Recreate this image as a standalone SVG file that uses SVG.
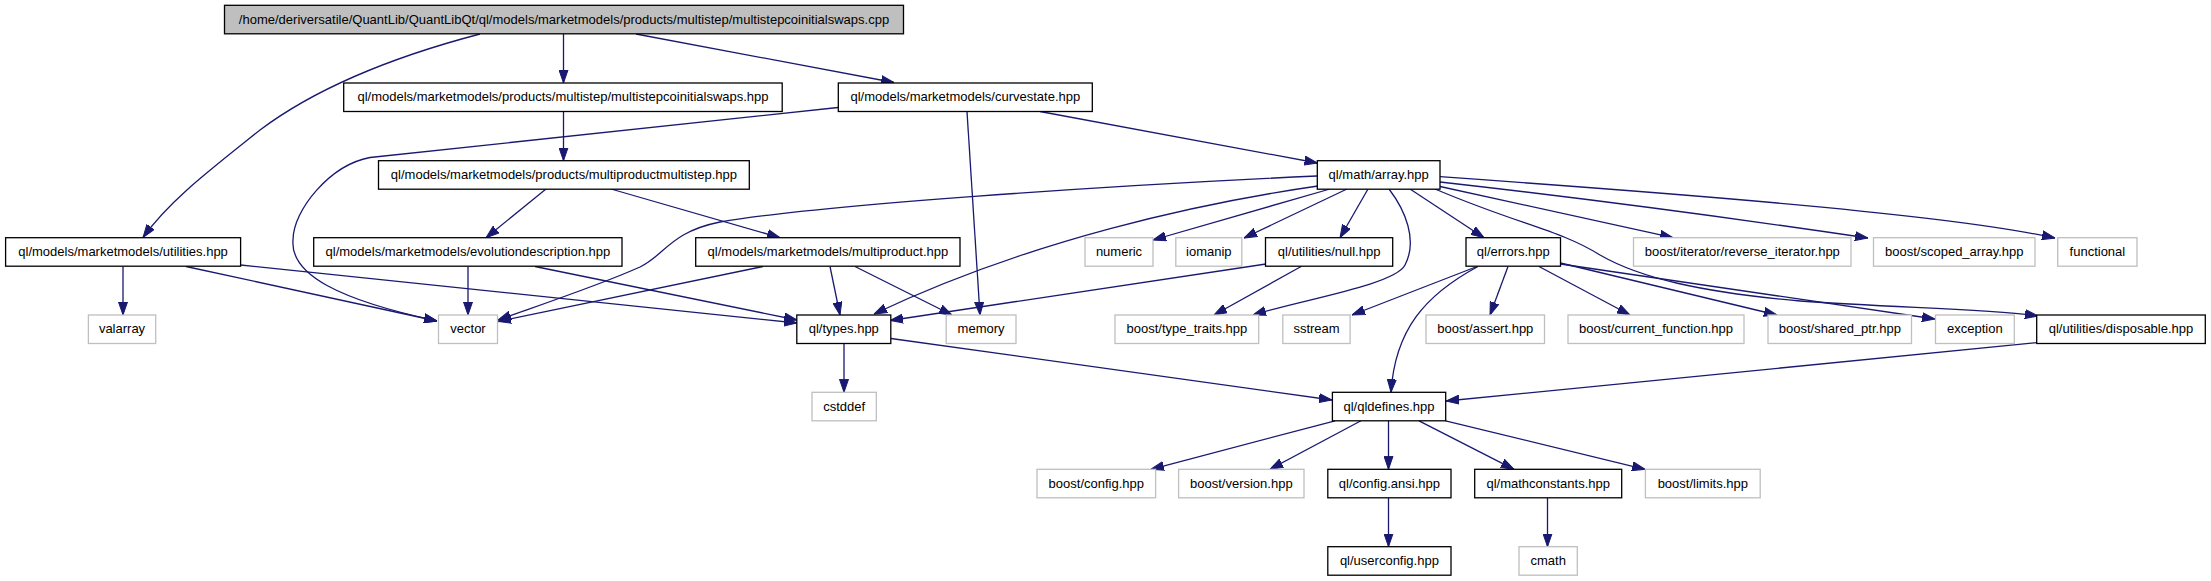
<svg xmlns="http://www.w3.org/2000/svg" width="2211" height="581" viewBox="0 0 2211 581">
<style>
text{font-family:"Liberation Sans",Arial,sans-serif;font-size:13px;fill:#000;text-anchor:middle}
.q rect{fill:#fff;stroke:#000;stroke-width:1.3}
.x rect{fill:#fff;stroke:#bfbfbf;stroke-width:1.3}
.r rect{fill:#bfbfbf;stroke:#000;stroke-width:1.3}
#edges path{fill:none;stroke:#191970;stroke-width:1.3;marker-end:url(#arr)}
</style>
<defs>
<marker id="arr" markerUnits="userSpaceOnUse" markerWidth="13" markerHeight="10" refX="13" refY="5" orient="auto" viewBox="0 0 13 10">
<path d="M0,0.5 L13,5 L0,9.5 z" fill="#191970" stroke="#191970" stroke-width="1"/>
</marker>
</defs>
<rect width="2211" height="581" fill="#fff"/>
<g id="edges">
<path d="M480,34 C400,55 320,85 260,130 C210,170 170,200 143,237.5"/>
<path d="M563.5,34 L563.5,83"/>
<path d="M636,34 L894,82.5"/>
<path d="M563.5,111.5 L563.5,160.7"/>
<path d="M838,107.5 L370,157.5 C330,165 293,210 293,240 C290,275 340,300 437,321"/>
<path d="M967,111.5 L980,315"/>
<path d="M1040,111.5 L1317.5,163"/>
<path d="M546,189 L486,237.7"/>
<path d="M611,189 L780,237.7"/>
<path d="M1317,176 C1100,186 820,205 720,222 C670,232 665,255 640,267 C600,285 540,305 498,320"/>
<path d="M1318,186 C1200,203 1030,240 874,314"/>
<path d="M1330,189 L1153,240"/>
<path d="M1347,189 L1244,238"/>
<path d="M1368,189 L1340,237.7"/>
<path d="M1389,189 C1405,210 1418,240 1405,265 C1395,285 1300,300 1253,315"/>
<path d="M1410,189 L1484,237.7"/>
<path d="M1435,189 C1520,225 1560,230 1600,255 C1640,278 1700,292 1800,301 C1900,308 1990,309 2038,316"/>
<path d="M1440,186.5 L1673,237.7"/>
<path d="M1440,182 C1600,200 1780,225 1868,238"/>
<path d="M1440,176.7 C1700,195 1950,215 2055,238"/>
<path d="M1266,264 L890,320.5"/>
<path d="M1302,266 L1214,315"/>
<path d="M123,266.5 L123,315"/>
<path d="M186,266.5 L437,321"/>
<path d="M240.6,265 L797,323"/>
<path d="M468,266.5 L468,315"/>
<path d="M535,266.5 L797,320"/>
<path d="M763,266.5 L498,321.5"/>
<path d="M830,266.5 L840,315"/>
<path d="M855,266.5 L952,315"/>
<path d="M844,343.5 L844,392.3"/>
<path d="M891,338.5 L1332,400"/>
<path d="M1477,266.5 L1352,315"/>
<path d="M1478,266.5 C1425,295 1395,330 1391,392.3"/>
<path d="M1508,266.5 L1490,315"/>
<path d="M1539,266.5 L1630,315"/>
<path d="M1560.5,263 L1777,315"/>
<path d="M1560.5,264 L1935,319"/>
<path d="M2036.7,342.7 L1446,401"/>
<path d="M1335,420.8 L1151,469.3"/>
<path d="M1361,420.8 L1270,469.3"/>
<path d="M1388.5,420.8 L1388.5,469.3"/>
<path d="M1419,420.8 L1514,469.3"/>
<path d="M1445.6,420.8 L1645,469.3"/>
<path d="M1388.5,497.8 L1388.5,546.7"/>
<path d="M1547.5,497.8 L1547.5,546.7"/>
</g>
<g id="n_root" class="r"><rect x="224.5" y="5.3" width="679" height="28.5"/><text x="564" y="23.6">/home/deriversatile/QuantLib/QuantLibQt/ql/models/marketmodels/products/multistep/multistepcoinitialswaps.cpp</text></g>
<g id="n_mcis" class="q"><rect x="343.7" y="83" width="438.5" height="28.5"/><text x="563" y="101.3">ql/models/marketmodels/products/multistep/multistepcoinitialswaps.hpp</text></g>
<g id="n_curvestate" class="q"><rect x="838.3" y="83" width="254" height="28.5"/><text x="965.3" y="101.3">ql/models/marketmodels/curvestate.hpp</text></g>
<g id="n_mpms" class="q"><rect x="378.5" y="160.7" width="370.8" height="28.5"/><text x="563.9" y="179">ql/models/marketmodels/products/multiproductmultistep.hpp</text></g>
<g id="n_array" class="q"><rect x="1317.3" y="160.7" width="122.7" height="28.5"/><text x="1378.7" y="179">ql/math/array.hpp</text></g>
<g id="n_utilities" class="q"><rect x="5.6" y="237.7" width="235" height="28.5"/><text x="123.1" y="256">ql/models/marketmodels/utilities.hpp</text></g>
<g id="n_evolution" class="q"><rect x="313.7" y="237.7" width="308.3" height="28.5"/><text x="467.9" y="256">ql/models/marketmodels/evolutiondescription.hpp</text></g>
<g id="n_multiproduct" class="q"><rect x="695.7" y="237.7" width="264.3" height="28.5"/><text x="827.9" y="256">ql/models/marketmodels/multiproduct.hpp</text></g>
<g id="n_numeric" class="x"><rect x="1085" y="237.7" width="68" height="28.5"/><text x="1119" y="256">numeric</text></g>
<g id="n_iomanip" class="x"><rect x="1175.8" y="237.7" width="66" height="28.5"/><text x="1208.8" y="256">iomanip</text></g>
<g id="n_null" class="q"><rect x="1265.5" y="237.7" width="127.2" height="28.5"/><text x="1329.1" y="256">ql/utilities/null.hpp</text></g>
<g id="n_errors" class="q"><rect x="1466" y="237.7" width="94.5" height="28.5"/><text x="1513.3" y="256">ql/errors.hpp</text></g>
<g id="n_reverse_iterator" class="x"><rect x="1633.5" y="237.7" width="217.5" height="28.5"/><text x="1742.3" y="256">boost/iterator/reverse_iterator.hpp</text></g>
<g id="n_scoped_array" class="x"><rect x="1873.5" y="237.7" width="161.5" height="28.5"/><text x="1954.3" y="256">boost/scoped_array.hpp</text></g>
<g id="n_functional" class="x"><rect x="2057.7" y="237.7" width="79.3" height="28.5"/><text x="2097.4" y="256">functional</text></g>
<g id="n_valarray" class="x"><rect x="88.4" y="315" width="67.3" height="28.5"/><text x="122" y="333.3">valarray</text></g>
<g id="n_vector" class="x"><rect x="438.5" y="315" width="59" height="28.5"/><text x="468" y="333.3">vector</text></g>
<g id="n_types" class="q"><rect x="796.8" y="315" width="94" height="28.5"/><text x="843.8" y="333.3">ql/types.hpp</text></g>
<g id="n_memory" class="x"><rect x="946.2" y="315" width="69.8" height="28.5"/><text x="981.1" y="333.3">memory</text></g>
<g id="n_type_traits" class="x"><rect x="1115" y="315" width="143.7" height="28.5"/><text x="1186.9" y="333.3">boost/type_traits.hpp</text></g>
<g id="n_sstream" class="x"><rect x="1282.8" y="315" width="67.3" height="28.5"/><text x="1316.5" y="333.3">sstream</text></g>
<g id="n_assert" class="x"><rect x="1426" y="315" width="118.5" height="28.5"/><text x="1485.3" y="333.3">boost/assert.hpp</text></g>
<g id="n_current_function" class="x"><rect x="1568" y="315" width="176" height="28.5"/><text x="1656" y="333.3">boost/current_function.hpp</text></g>
<g id="n_shared_ptr" class="x"><rect x="1768" y="315" width="143.5" height="28.5"/><text x="1839.8" y="333.3">boost/shared_ptr.hpp</text></g>
<g id="n_exception" class="x"><rect x="1935.5" y="315" width="78.8" height="28.5"/><text x="1974.9" y="333.3">exception</text></g>
<g id="n_disposable" class="q"><rect x="2036.7" y="315" width="168.6" height="28.5"/><text x="2121" y="333.3">ql/utilities/disposable.hpp</text></g>
<g id="n_cstddef" class="x"><rect x="812" y="392.3" width="64.3" height="28.5"/><text x="844.2" y="410.6">cstddef</text></g>
<g id="n_qldefines" class="q"><rect x="1332.4" y="392.3" width="113.3" height="28.5"/><text x="1389" y="410.6">ql/qldefines.hpp</text></g>
<g id="n_boost_config" class="x"><rect x="1037" y="469.3" width="118.6" height="28.5"/><text x="1096.3" y="487.6">boost/config.hpp</text></g>
<g id="n_boost_version" class="x"><rect x="1178.6" y="469.3" width="125.4" height="28.5"/><text x="1241.3" y="487.6">boost/version.hpp</text></g>
<g id="n_config_ansi" class="q"><rect x="1327.8" y="469.3" width="123.2" height="28.5"/><text x="1389.4" y="487.6">ql/config.ansi.hpp</text></g>
<g id="n_mathconstants" class="q"><rect x="1474.7" y="469.3" width="147" height="28.5"/><text x="1548.2" y="487.6">ql/mathconstants.hpp</text></g>
<g id="n_boost_limits" class="x"><rect x="1645.4" y="469.3" width="114.8" height="28.5"/><text x="1702.8" y="487.6">boost/limits.hpp</text></g>
<g id="n_userconfig" class="q"><rect x="1327.8" y="546.7" width="123.2" height="28.5"/><text x="1389.4" y="565">ql/userconfig.hpp</text></g>
<g id="n_cmath" class="x"><rect x="1519" y="546.7" width="58.3" height="28.5"/><text x="1548.2" y="565">cmath</text></g>
</svg>
